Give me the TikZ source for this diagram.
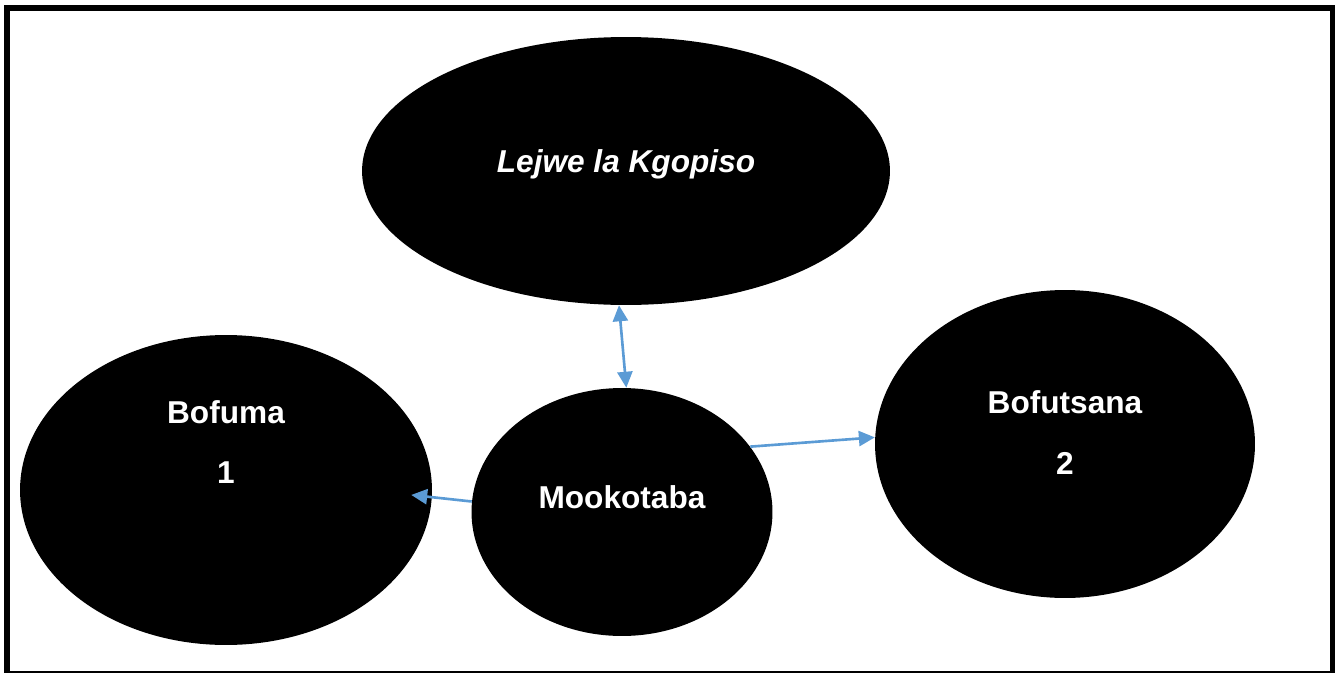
\documentclass[tikz,border=0pt]{standalone}
\usepackage{fontspec}
\setmainfont{Liberation Sans}
\usepackage{tikz}
\usetikzlibrary{shapes.geometric, % for ellipses
                arrows.meta,
                calc,
                positioning}

\begin{document}
\begin{tikzpicture}[x=0.02cm, y=-0.02cm,
                    head/.tip={Triangle[length=0.32cm, width=0.3cm]},
                    blob/.style 2 args={ellipse, fill=black, inner sep=0pt,
                                        minimum width=#1, minimum height=#2},
                    word/.style={text=white, anchor=base, font=\fontsize{18}{21}\selectfont\bfseries},
                    link/.style={draw={rgb,255:red,91;green,155;blue,213}, line width=1.5pt}
                    ]

    \useasboundingbox (0,0) rectangle (1335,673);

    % FRAME %
    \draw[line width=0.12cm] (4,8) -- (1335,8);
    \draw[line width=0.12cm] (7,5) -- (7,673);
    \draw[line width=0.1cm] (1332.5,5) -- (1332.5,673);
    \draw[line width=0.03cm] (4,672) -- (1335,672);

    % ELLIPSES %
    \node[blob={10.56cm}{5.36cm}] (kgopiso) at (626,171) {};
    \node[blob={8.24cm}{6.2cm}]   (bofuma)  at (226,490) {};
    \node[blob={6.02cm}{4.96cm}]  (mooko)   at (622,512) {};
    \node[blob={7.6cm}{6.16cm}]   (bofu)    at (1065,444) {};

    % TEXTS %
    \node[word, font=\fontsize{18}{21}\selectfont\bfseries\itshape] (tk) at (626,172) {Lejwe la Kgopiso};
    \node[word] (tb)  at (226,423)  {Bofuma};
    \node[word] (tb1) at (226,483)  {1};
    \node[word] (tm)  at (622,508)  {Mookotaba};
    \node[word] (tf)  at (1065,413) {Bofutsana};
    \node[word] (tf2) at (1065,474) {2};

    % ARROWS %
    \draw[link, head-head] (kgopiso.267) -- (mooko.88);
    \draw[link, -head, shorten >=-0.42cm] (mooko.176) -- (bofuma.-2);
    \draw[link, -head] (mooko.27) -- (bofu.178);
\end{tikzpicture}
\end{document}
